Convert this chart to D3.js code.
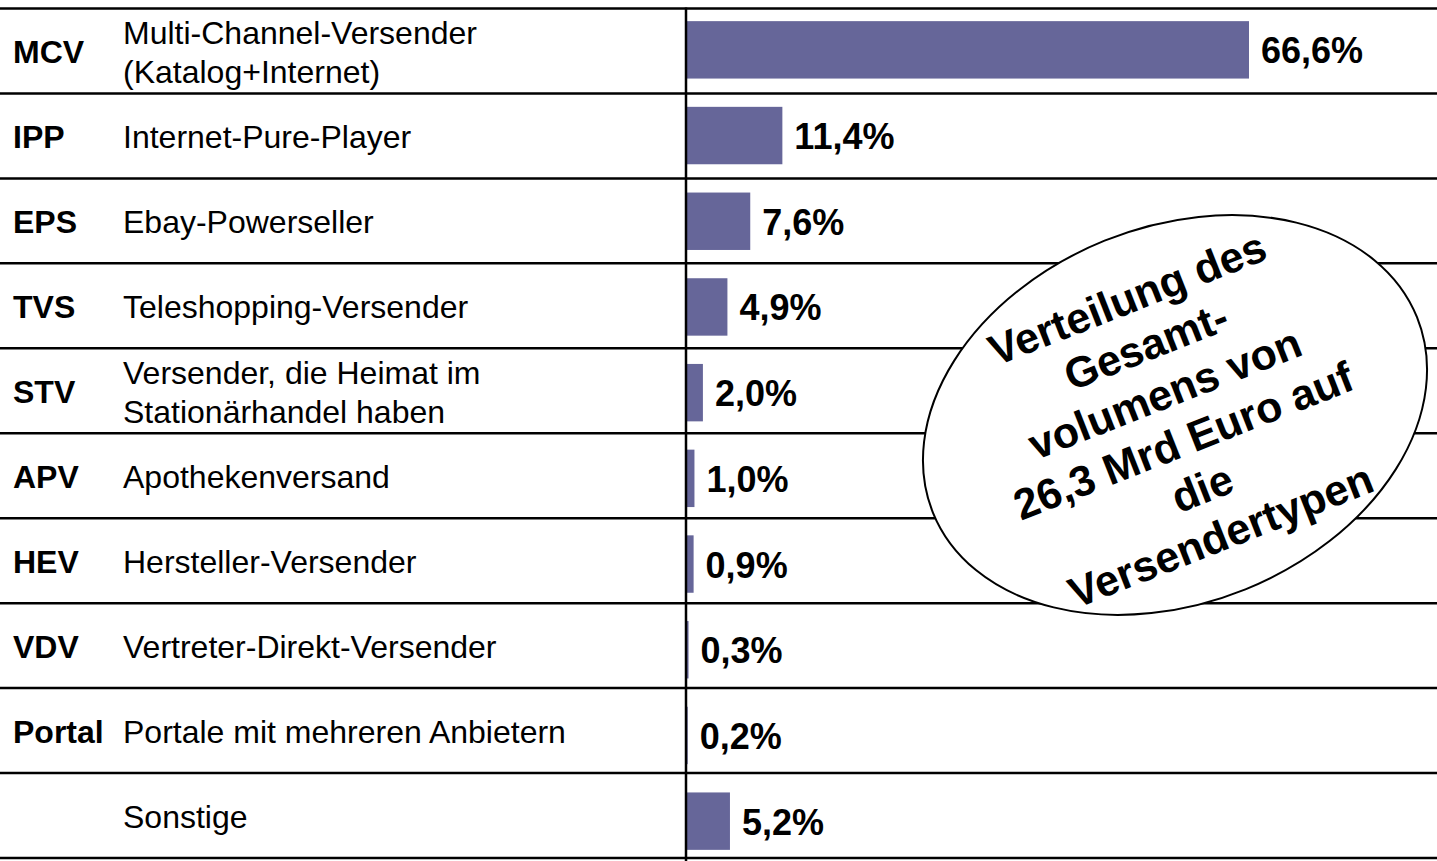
<!DOCTYPE html>
<html>
<head>
<meta charset="utf-8">
<script src="https://cdn.jsdelivr.net/npm/d3@7"></script>
<style>
    body { margin: 0; background: #fff; }
    svg { display: block; font-family: "Liberation Sans", Arial, sans-serif; }
</style>
</head>
<body>
<div id="chart"></div>
<script>
// Versendertypen und ihr Anteil am Gesamtvolumen
const codes = ["MCV", "IPP", "EPS", "TVS", "STV", "APV", "HEV", "VDV", "Portal", ""];
const descriptions = [
    ["Multi-Channel-Versender", "(Katalog+Internet)"],
    ["Internet-Pure-Player"],
    ["Ebay-Powerseller"],
    ["Teleshopping-Versender"],
    ["Versender, die Heimat im", "Stationärhandel haben"],
    ["Apothekenversand"],
    ["Hersteller-Versender"],
    ["Vertreter-Direkt-Versender"],
    ["Portale mit mehreren Anbietern"],
    ["Sonstige"]
];
const shares = [66.6, 11.4, 7.6, 4.9, 2.0, 1.0, 0.9, 0.3, 0.2, 5.2];
const noteLines = ["Verteilung des", "Gesamt-", "volumens von", "26,3 Mrd Euro auf", "die", "Versendertypen"];

const width = 1437;
const height = 861;

const de = d3.formatLocale({ decimal: ",", thousands: ".", grouping: [3], currency: ["", " €"] });
const fmt = d => de.format(".1f")(d) + "%";

const svg = d3.select("#chart")
    .append("svg")
    .attr("width", width)
    .attr("height", height)
    .attr("viewBox", `0 0 ${width} ${height}`);

const idx = d3.range(codes.length);

// rows of the table
const yRow = d3.scaleBand()
    .domain(idx)
    .range([8.5, 858]);

// bars sit a little lower than the rows toward the bottom
const yBar = d3.scaleBand()
    .domain(idx)
    .range([7, 864])
    .paddingInner(0.33)
    .paddingOuter(0.165);

const x = d3.scaleLinear()
    .domain([0, 66.6])
    .range([686, 1249]);

// bars
svg.append("g")
    .selectAll("rect")
    .data(idx)
    .join("rect")
    .attr("x", x(0))
    .attr("y", i => yBar(i))
    .attr("width", i => x(shares[i]) - x(0))
    .attr("height", yBar.bandwidth())
    .attr("fill", "#666699");

// horizontal rules
const rules = idx.map(i => yRow(i)).concat([yRow.range()[1]]);
svg.append("g")
    .selectAll("line")
    .data(rules)
    .join("line")
    .attr("x1", 0)
    .attr("x2", width)
    .attr("y1", d => d)
    .attr("y2", d => d)
    .attr("stroke", "#000")
    .attr("stroke-width", 2.5);

// vertical axis line
svg.append("line")
    .attr("x1", x(0))
    .attr("x2", x(0))
    .attr("y1", 7.5)
    .attr("y2", height)
    .attr("stroke", "#000")
    .attr("stroke-width", 2.5);

// codes
svg.append("g")
    .selectAll("text")
    .data(idx)
    .join("text")
    .attr("x", 13)
    .attr("y", i => yRow(i) + yRow.bandwidth() / 2 + 1.5)
    .attr("dominant-baseline", "central")
    .attr("font-size", 32)
    .attr("font-weight", "bold")
    .text(i => codes[i]);

// descriptions
const desc = svg.append("g")
    .selectAll("text")
    .data(idx)
    .join("text")
    .attr("font-size", 32)
    .attr("dominant-baseline", "central");

desc.selectAll("tspan")
    .data(i => descriptions[i].map((t, k) => ({ t, k, n: descriptions[i].length, i })))
    .join("tspan")
    .attr("x", 123)
    .attr("y", d => yRow(d.i) + yRow.bandwidth() / 2 + 1.5 + (d.k - (d.n - 1) / 2) * 39)
    .text(d => d.t);

// value labels
svg.append("g")
    .selectAll("text")
    .data(idx)
    .join("text")
    .attr("x", i => x(shares[i]) + 12)
    .attr("y", i => yBar(i) + yBar.bandwidth() / 2 + 1)
    .attr("dominant-baseline", "central")
    .attr("font-size", 36)
    .attr("font-weight", "bold")
    .text(i => fmt(shares[i]));

// callout ellipse
svg.append("ellipse")
    .attr("transform", "translate(1175,415) rotate(-22)")
    .attr("rx", 261)
    .attr("ry", 188)
    .attr("fill", "#fff")
    .attr("stroke", "#000")
    .attr("stroke-width", 2);

const note = svg.append("g")
    .attr("transform", "translate(1174,417) rotate(-21.5)");

note.selectAll("text")
    .data(noteLines)
    .join("text")
    .attr("x", 0)
    .attr("y", (d, i) => (i - (noteLines.length - 1) / 2) * 51)
    .attr("text-anchor", "middle")
    .attr("dominant-baseline", "central")
    .attr("font-size", 43)
    .attr("font-weight", "bold")
    .text(d => d);
</script>
</body>
</html>
